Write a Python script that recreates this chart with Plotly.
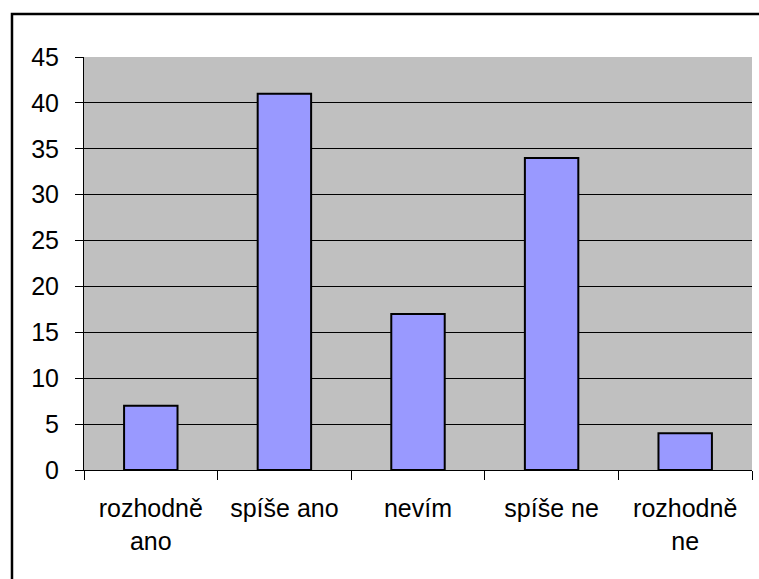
import plotly.graph_objects as go

# Survey answers and counts
categories = ["rozhodně<br>ano", "spíše ano", "nevím", "spíše ne", "rozhodně<br>ne"]
counts = [7, 41, 17, 34, 4]
y_ticks = [0, 5, 10, 15, 20, 25, 30, 35, 40, 45]

FONT = "Liberation Sans, Arial, sans-serif"

fig = go.Figure(
    go.Bar(
        x=categories,
        y=counts,
        width=0.4,
        marker=dict(color="#9999FF", line=dict(color="black", width=2)),
    )
)

fig.update_layout(
    width=759,
    height=579,
    margin=dict(l=84, r=7, t=57, b=109),
    paper_bgcolor="white",
    plot_bgcolor="#C0C0C0",
    font=dict(family=FONT, size=25, color="black"),
    showlegend=False,
    bargap=0.6,
    shapes=[
        # outer chart frame
        dict(
            type="rect", xref="paper", yref="paper",
            x0=-0.1078, x1=1.06, y0=-0.35, y1=1.104,
            line=dict(color="black", width=2.5), fillcolor="rgba(0,0,0,0)",
            layer="below",
        )
    ],
)

fig.update_xaxes(
    showline=True, linecolor="black", linewidth=1,
    ticks="outside", tickson="boundaries", ticklen=9, tickcolor="black",
    showgrid=False, ticklabelstandoff=16,
)
fig.update_yaxes(
    range=[0, 45], tickvals=y_ticks,
    showline=True, linecolor="black", linewidth=1,
    ticks="outside", ticklen=8, tickcolor="black",
    showgrid=True, gridcolor="black", gridwidth=1,
    zeroline=False, ticklabelstandoff=11,
)

fig.write_html("out.html")
